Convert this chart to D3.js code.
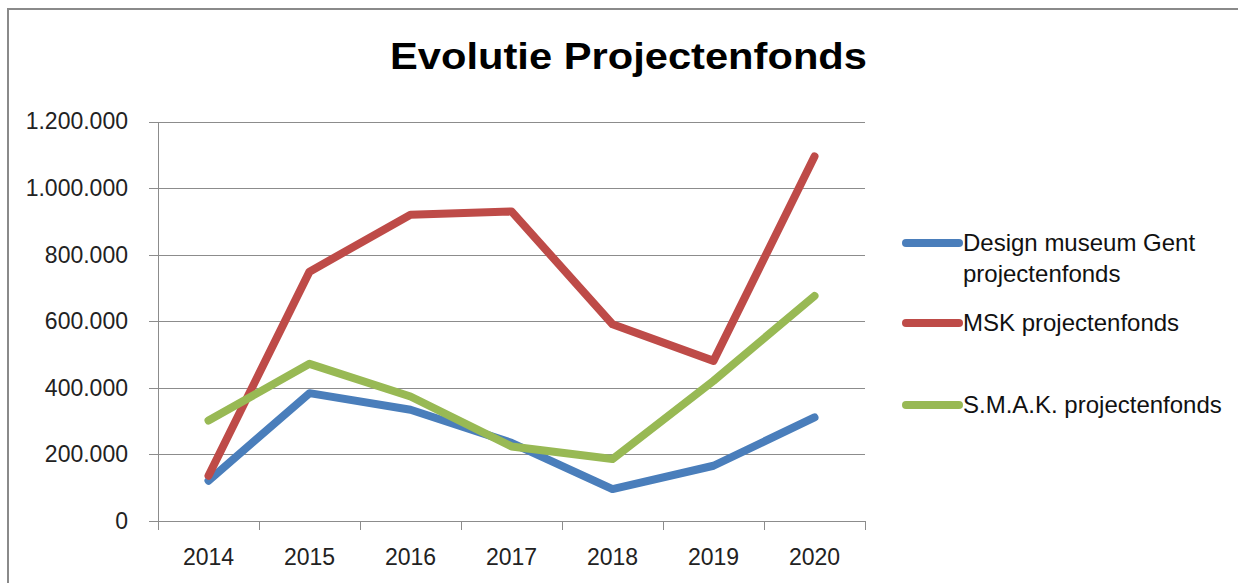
<!DOCTYPE html>
<html lang="nl">
<head>
  <meta charset="UTF-8">
  <script src="https://cdn.jsdelivr.net/npm/d3@7"></script>
  <title>Evolutie Projectenfonds</title>
  <style>
    body { margin: 0; background: #fff; }
    svg { display: block; font-family: "Liberation Sans", Arial, sans-serif; }
    .grid line { stroke: #8c8c8c; stroke-width: 1; shape-rendering: crispEdges; }
    .axis path, .axis line { stroke: #8c8c8c; fill: none; shape-rendering: crispEdges; }
    .axis text { font-size: 23px; fill: #222; }
    .serie { fill: none; stroke-width: 8; stroke-linecap: round; stroke-linejoin: round; }
  </style>
</head>
<body>
<div id="chart"></div>
<script>
  // data
  var years = ["2014", "2015", "2016", "2017", "2018", "2019", "2020"];
  var designMuseum = [121000, 384000, 334000, 235000, 96000, 166000, 311000];
  var msk = [136000, 749000, 920000, 930000, 591000, 481000, 1095000];
  var smak = [302000, 472000, 374000, 224000, 186000, 421000, 676000];
  var yTicks = [0, 200000, 400000, 600000, 800000, 1000000, 1200000];
  var seriesNames = ["Design museum Gent projectenfonds", "MSK projectenfonds", "S.M.A.K. projectenfonds"];
  var seriesColors = ["#4a7ebb", "#be4b48", "#98b954"];

  var W = 1238, H = 583;
  var plotLeft = 158, plotRight = 865, plotTop = 121.5, plotBottom = 521;

  var svg = d3.select("#chart").append("svg")
    .attr("width", W)
    .attr("height", H);

  // outer chart frame (runs off the right and bottom edge)
  svg.append("rect")
    .attr("x", 8).attr("y", 9)
    .attr("width", W + 20).attr("height", H + 20)
    .attr("fill", "none")
    .attr("stroke", "#8a8a8a")
    .attr("stroke-width", 2);

  svg.append("text")
    .attr("x", 628.5).attr("y", 69)
    .attr("text-anchor", "middle")
    .attr("font-size", 36)
    .attr("font-weight", "bold")
    .attr("textLength", 477)
    .attr("lengthAdjust", "spacingAndGlyphs")
    .text("Evolutie Projectenfonds");

  var xScale = d3.scaleBand().domain(years).range([plotLeft, plotRight]).padding(0);
  var yScale = d3.scaleLinear().domain([0, 1200000]).range([plotBottom, plotTop]);

  var nl = d3.formatLocale({ decimal: ",", thousands: ".", grouping: [3], currency: ["€", ""] });
  var fmt = nl.format(",d");

  // horizontal gridlines
  svg.append("g")
    .attr("class", "grid")
    .selectAll("line")
    .data(yTicks.slice(1))
    .enter().append("line")
    .attr("x1", plotLeft).attr("x2", plotRight)
    .attr("y1", function(d) { return Math.round(yScale(d)) + 0.5; })
    .attr("y2", function(d) { return Math.round(yScale(d)) + 0.5; });

  // y axis
  var yAxis = svg.append("g")
    .attr("class", "axis")
    .attr("transform", "translate(" + plotLeft + ",0)")
    .call(d3.axisLeft(yScale).tickValues(yTicks).tickFormat(fmt).tickSize(9).tickPadding(21).tickSizeOuter(0));
  yAxis.select(".domain").attr("d", "M0.5," + plotTop + "V" + plotBottom);

  // x axis: line plus ticks on the band edges
  var xAxis = svg.append("g")
    .attr("class", "axis")
    .attr("transform", "translate(0," + plotBottom + ")");
  xAxis.append("line")
    .attr("x1", plotLeft).attr("x2", plotRight)
    .attr("y1", 0.5).attr("y2", 0.5);
  var edges = years.map(function(d) { return xScale(d); }).concat([plotRight]);
  xAxis.selectAll(".edge")
    .data(edges)
    .enter().append("line")
    .attr("class", "edge")
    .attr("x1", function(d) { return Math.round(d) + 0.5; })
    .attr("x2", function(d) { return Math.round(d) + 0.5; })
    .attr("y1", 0).attr("y2", 9);
  xAxis.selectAll("text")
    .data(years)
    .enter().append("text")
    .attr("x", function(d) { return xScale(d) + xScale.bandwidth() / 2; })
    .attr("y", 44)
    .attr("text-anchor", "middle")
    .text(function(d) { return d; });

  // lines
  var line = d3.line()
    .x(function(d, i) { return xScale(years[i]) + xScale.bandwidth() / 2; })
    .y(function(d) { return yScale(d); });

  var allSeries = [designMuseum, msk, smak];
  svg.selectAll(".serie")
    .data(allSeries)
    .enter().append("path")
    .attr("class", "serie")
    .attr("stroke", function(d, i) { return seriesColors[i]; })
    .attr("d", line);

  // legend
  var legend = svg.append("g").attr("font-size", 24).attr("fill", "#111");
  var legendY = [243, 323, 405];
  legendY.forEach(function(y, i) {
    legend.append("line")
      .attr("x1", 906).attr("x2", 959)
      .attr("y1", y).attr("y2", y)
      .attr("stroke", seriesColors[i])
      .attr("stroke-width", 8)
      .attr("stroke-linecap", "round");
  });
  legend.append("text").attr("x", 963).attr("y", 251).text("Design museum Gent");
  legend.append("text").attr("x", 963).attr("y", 282).text("projectenfonds");
  legend.append("text").attr("x", 963).attr("y", 331).text(seriesNames[1]);
  legend.append("text").attr("x", 963).attr("y", 413).text(seriesNames[2]);
</script>
</body>
</html>
